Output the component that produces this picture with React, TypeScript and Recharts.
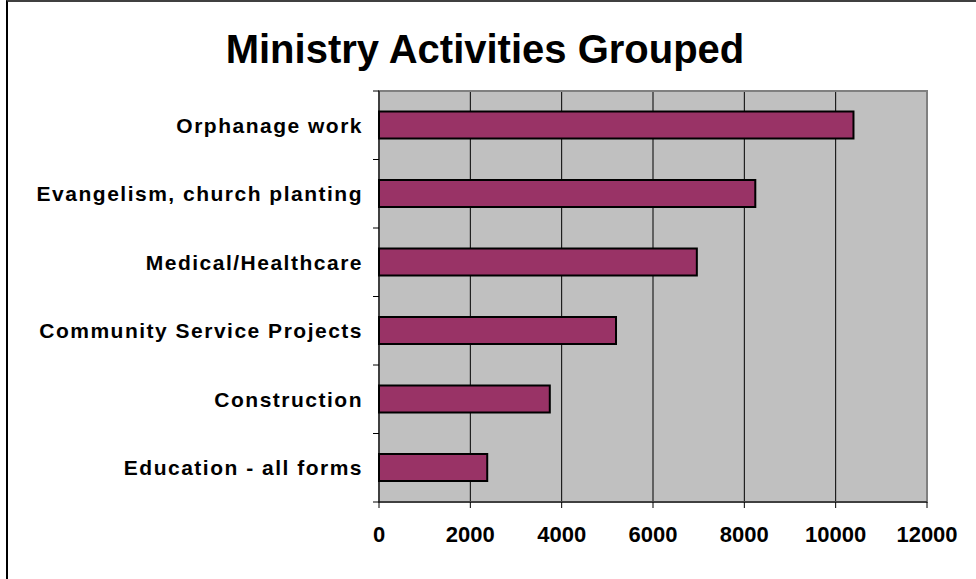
import { Bar, BarChart, CartesianGrid, ReferenceArea, XAxis, YAxis } from "recharts";

const categories = [
  "Orphanage work",
  "Evangelism, church planting",
  "Medical/Healthcare",
  "Community Service Projects",
  "Construction",
  "Education - all forms",
];
const counts = [10390, 8240, 6960, 5190, 3740, 2370];
const xTicks = [0, 2000, 4000, 6000, 8000, 10000, 12000];

const data = categories.map((name, i) => ({ name, value: counts[i] }));

const font = "'Liberation Sans', Arial, sans-serif";

function CategoryTick(props: any) {
  const { x, y, payload, index, visibleTicksCount } = props;
  const half = payload?.offset ?? 34;
  const last = index === visibleTicksCount - 1;
  return (
    <g>
      <line x1={x - 6} x2={x} y1={y - half} y2={y - half} stroke="#000" strokeWidth={1} />
      {last && <line x1={x - 6} x2={x} y1={y + half} y2={y + half} stroke="#000" strokeWidth={1} />}
      <text
        x={x - 16}
        y={y}
        dy="0.36em"
        textAnchor="end"
        fill="#000"
        fontSize={21}
        fontWeight="bold"
        fontFamily={font}
        letterSpacing={1.5}
      >
        {payload.value}
      </text>
    </g>
  );
}

export default function App() {
  return (
    <div style={{ position: "absolute", left: 0, top: 0, width: 976, height: 579, background: "#fff" }}>
      <div
        style={{
          position: "absolute",
          left: 6,
          top: 0,
          width: 970,
          height: 579,
          borderTop: "2px solid #404040",
          borderLeft: "2px solid #000",
          boxSizing: "border-box",
        }}
      />
      <div
        style={{
          position: "absolute",
          left: 0,
          top: 29,
          width: 970,
          textAlign: "center",
          fontFamily: font,
          fontWeight: "bold",
          fontSize: 40,
          lineHeight: "40px",
          color: "#000",
        }}
      >
        Ministry Activities Grouped
      </div>
      <div style={{ position: "absolute", left: 0, top: 0 }}>
        <BarChart
          width={976}
          height={579}
          data={data}
          layout="vertical"
          margin={{ top: 91, right: 49, bottom: 37, left: 0 }}
          barCategoryGap="30%"
        >
          <CartesianGrid horizontal={false} stroke="#000" fill="#c0c0c0" fillOpacity={1} />
          <ReferenceArea x1={0} x2={12000} fill="none" stroke="#808080" strokeWidth={2} />
          <XAxis
            type="number"
            domain={[0, 12000]}
            ticks={xTicks}
            interval={0}
            height={40}
            tickSize={6}
            tickMargin={18}
            axisLine={{ stroke: "#000" }}
            tickLine={{ stroke: "#000" }}
            tick={{ fill: "#000", fontSize: 22, fontWeight: "bold", fontFamily: font }}
          />
          <YAxis
            type="category"
            dataKey="name"
            width={379}
            interval={0}
            tickSize={0}
            tickMargin={0}
            tickLine={false}
            axisLine={{ stroke: "#000" }}
            tick={<CategoryTick />}
          />
          <Bar dataKey="value" fill="#993366" stroke="#000" strokeWidth={2} isAnimationActive={false} />
        </BarChart>
      </div>
    </div>
  );
}
